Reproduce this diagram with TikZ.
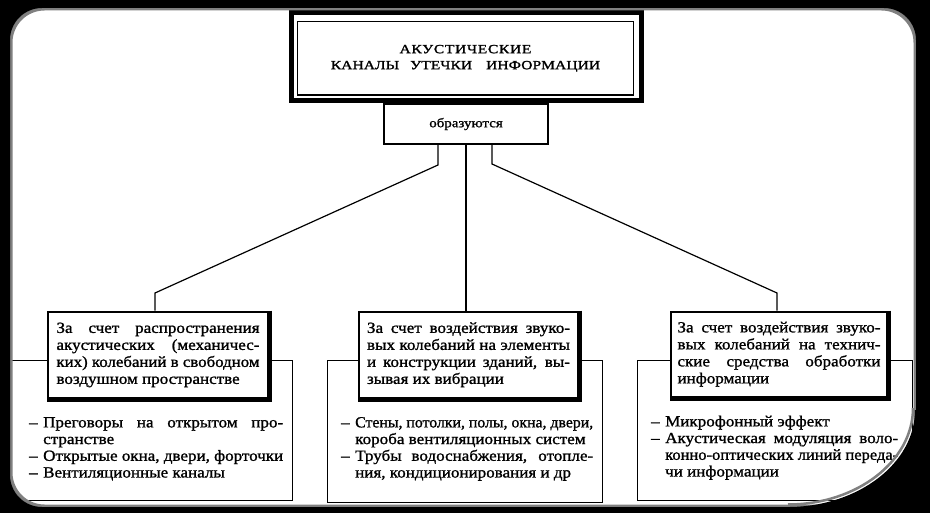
\documentclass[tikz,border=0pt]{standalone}
\usepackage{fontspec}
\usepackage{graphicx}
\setmainfont[FakeStretch=1.1,FakeBold=1.2]{Liberation Serif}
\newfontfamily\titlefam[FakeStretch=1.25,FakeBold=1.4]{Liberation Serif}
\newfontfamily\obfam[FakeStretch=1.15,FakeBold=1.2]{Liberation Serif}
\newlength\rlw
\newsavebox\rbox
\newcommand\rjl[1]{\strut\sbox\rbox{#1}\ifdim\wd\rbox>\rlw\resizebox{\rlw}{\height}{\usebox\rbox}\else\makebox[\rlw][s]{#1}\fi}
\newcommand\rlast[1]{\strut\makebox[\rlw][l]{#1}}
\newcommand\rdi[1]{\makebox[14pt][l]{–}\rjl{#1}}
\newcommand\rdl[1]{\makebox[14pt][l]{–}\rlast{#1}}
\newcommand\rci[1]{\hspace*{14pt}\rjl{#1}}
\newcommand\rcl[1]{\hspace*{14pt}\rlast{#1}}
\newcommand\bodyfont{\fontsize{15.5}{17}\selectfont}
\newcommand\listfont{\fontsize{15.5}{16.7}\selectfont}
\newcommand\titlefont{\titlefam\fontsize{12.5}{16}\selectfont}
\begin{document}
\begin{tikzpicture}[x=1pt,y=-1pt,
  conn/.style={line width=1.2pt},
  hdr/.style={draw, line width=2.5pt, fill=white, inner sep=0pt, align=left, font=\bodyfont},
  shadowline/.style={line width=2.5pt},
  lstbox/.style={draw, line width=1.2pt, inner sep=0pt, anchor=north west},
  lsttext/.style={inner sep=0pt, anchor=north west, align=left, font=\listfont},
  thinbox/.style={draw, line width=1.2pt, inner sep=0pt}]
\useasboundingbox (0,0) rectangle (930,513);
\fill[white] (0,0) rectangle (930,513);

% lower list boxes
\node[lstbox, minimum width=281, minimum height=140] (l1) at (11,360) {};
\node[lstbox, minimum width=275, minimum height=142] (l2) at (327,360) {};
\node[lstbox, minimum width=275, minimum height=140] (l3) at (637,360) {};

% header boxes
\setlength\rlw{203pt}
\node[hdr, minimum width=220, minimum height=86] (h1) at (158,355)
 {\rjl{За счет распространения}\\
  \rjl{акустических (механичес-}\\
  \rjl{ких) колебаний в свободном}\\
  \rlast{воздушном пространстве}};
\node[hdr, minimum width=219, minimum height=86] (h2) at (468.5,355)
 {\rjl{За счет воздействия звуко-}\\
  \rjl{вых колебаний на элементы}\\
  \rjl{и конструкции зданий, вы-}\\
  \rlast{зывая их вибрации}};
\node[hdr, minimum width=216, minimum height=85] (h3) at (779,354.5)
 {\rjl{За счет воздействия звуко-}\\
  \rjl{вых колебаний на технич-}\\
  \rjl{ские средства обработки}\\
  \rlast{информации}};
\foreach \h in {h1,h2,h3}
  \draw[shadowline] ([xshift=1.25pt]\h.north east) -- ([xshift=1.25pt,yshift=-1.25pt]\h.south east) -- ([yshift=-1.25pt]\h.south west);

% list texts
\setlength\rlw{240pt}
\node[lsttext] (t1) at (29,415.5)
 {\rdi{Преговоры на открытом про-}\\
  \rcl{странстве}\\
  \rdi{Открытые окна, двери, форточки}\\
  \rdl{Вентиляционные каналы}};
\setlength\rlw{238pt}
\node[lsttext] (t2) at (341,415.5)
 {\rdi{Стены, потолки, полы, окна, двери,}\\
  \rcl{короба вентиляционных систем}\\
  \rdi{Трубы водоснабжения, отопле-}\\
  \rcl{ния, кондиционирования и др}};
\setlength\rlw{233pt}
\node[lsttext] (t3) at (651,414.5)
 {\rdl{Микрофонный эффект}\\
  \rdi{Акустическая модуляция воло-}\\
  \rci{конно-оптических линий переда-}\\
  \rcl{чи информации}};

% title
\node[draw, line width=5pt, minimum width=350.5, minimum height=88.5, inner sep=0pt] (tb) at (466.25,56.75) {};
\node[thinbox, line width=1.3pt, minimum width=336, minimum height=73.5] (ti) at (465.5,58.25) {};
\node[inner sep=0pt, anchor=north, align=center, font=\titlefont] (tt) at (465.5,41.8)
 {\strut{\addfontfeature{LetterSpace=5}АКУСТИЧЕСКИЕ}\\\strut КАНАЛЫ\hspace{7pt} УТЕЧКИ\hspace{10pt} ИНФОРМАЦИИ};

% образуются
\node[thinbox, fill=white, minimum width=164, minimum height=40, font=\obfam\fontsize{13}{16}\selectfont] (ob) at (466,124) {образуются};

% connectors
\coordinate (cL1) at (438,165);
\coordinate (cL2) at (155,293);
\coordinate (cR1) at (492,164);
\coordinate (cR2) at (777,293);
\draw[conn] ([xshift=-28pt]ob.south) -- (cL1) -- (cL2) -- (cL2 |- h1.north);
\draw[conn] (ob.south) -- (ob.south |- h2.north);
\draw[conn] ([xshift=26pt]ob.south) -- (cR1) -- (cR2) -- (cR2 |- h3.north);

% photo border
\fill[black!50, even odd rule] (0,0) rectangle (930,513)
  [rounded corners=32] (12.5,10.5) rectangle (913.5,504.5);
\fill[black, even odd rule] (0,0) rectangle (930,513)
  [rounded corners=32] (10,8) rectangle (916,507);
\draw[black!50, line width=2.5pt] (788,504.5) .. controls (857,504.5) and (913,461) .. (913,408);
\fill[black] (916,507) -- (790,507) .. controls (859,506) and (915,463) .. (915,410) -- (916,410) -- cycle;
\end{tikzpicture}
\end{document}
